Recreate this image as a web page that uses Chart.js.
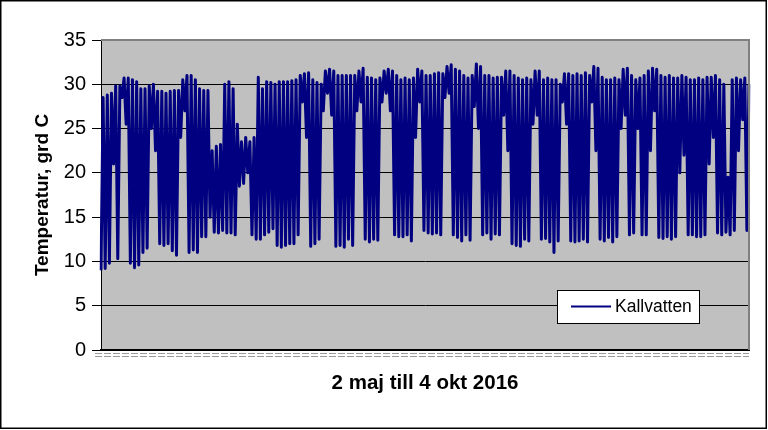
<!DOCTYPE html>
<html>
<head>
<meta charset="utf-8">
<title>Kallvatten</title>
<script src="https://cdn.jsdelivr.net/npm/chart.js@4/dist/chart.umd.min.js"></script>
<style>
  body { margin: 0; background: #fff; }
  #wrap { width: 768px; height: 430px; }
</style>
</head>
<body>
<div id="wrap"><canvas id="chart" width="768" height="430"></canvas></div>
<script>
// Kallvatten - dygnsvis max/min, 2 maj till 4 okt 2016
const seriesName = 'Kallvatten';
const xTitle = '2 maj till 4 okt 2016';
const yTitle = 'Temperatur, grd C';

const dayMax = [
  28.5, 28.8, 29.0, 29.8, 29.8, 30.7, 30.7, 30.5, 30.3, 29.5,
  29.5, 29.8, 30.0, 29.2, 29.2, 29.0, 29.2, 29.3, 29.3, 30.5,
  31.0, 31.0, 30.5, 29.5, 29.3, 29.3, 22.5, 23.0, 23.2, 30.0,
  30.3, 29.5, 25.5, 23.5, 24.0, 23.5, 24.0, 30.8, 29.5, 30.3,
  30.2, 30.0, 30.3, 30.3, 30.3, 30.4, 30.5, 31.0, 31.2, 31.3,
  30.5, 30.2, 30.0, 31.5, 31.7, 31.5, 31.0, 31.0, 31.0, 31.0,
  31.0, 31.5, 31.8, 30.8, 30.7, 30.5, 30.7, 31.5, 31.7, 31.5,
  31.0, 30.5, 30.7, 30.5, 30.7, 31.7, 31.5, 31.0, 31.0, 31.2,
  31.3, 31.2, 32.0, 32.2, 31.7, 31.5, 31.0, 30.7, 31.0, 32.3,
  32.0, 31.0, 31.0, 30.7, 30.8, 30.8, 31.5, 31.5, 31.0, 30.7,
  30.5, 30.7, 30.5, 31.5, 31.5, 30.5, 30.7, 30.5, 30.5, 30.0,
  31.2, 31.2, 31.0, 31.2, 31.0, 31.3, 31.0, 32.0, 31.8, 30.8,
  30.5, 30.5, 30.7, 30.5, 31.7, 31.8, 31.0, 30.5, 30.7, 31.0,
  31.5, 31.8, 31.7, 31.0, 30.8, 31.0, 30.7, 30.7, 31.0, 30.8,
  30.5, 30.5, 30.7, 30.5, 30.8, 30.8, 31.0, 30.5, 30.0, 19.5,
  30.5, 30.7, 30.5, 30.7, 30.0
];

const dayMin = [
   9.0,  9.2,  9.8, 21.0, 10.3, 28.5, 25.5,  9.8,  9.3,  9.6,
  11.0, 11.5, 25.0, 22.5, 12.0, 11.8, 12.0, 11.2, 10.7, 24.0,
  27.0, 11.0, 11.3, 11.0, 12.8, 12.8, 15.0, 13.3, 13.2, 13.5,
  13.2, 13.2, 13.0, 18.5, 18.8, 20.0, 13.0, 12.5, 12.5, 13.0,
  13.3, 13.7, 11.8, 11.6, 11.8, 12.0, 12.0, 13.0, 28.0, 24.0,
  11.7, 12.0, 12.5, 27.0, 29.0, 26.5, 11.7, 11.8, 11.6, 12.5,
  11.8, 27.0, 28.0, 12.5, 12.2, 12.5, 12.4, 28.0, 29.0, 27.0,
  13.0, 12.8, 12.8, 13.0, 12.3, 24.0, 28.0, 13.5, 13.2, 13.1,
  13.2, 13.0, 28.5, 29.0, 13.0, 12.7, 12.3, 13.0, 12.4, 27.5,
  25.0, 13.0, 13.2, 12.5, 13.1, 13.0, 26.5, 22.5, 12.0, 11.8,
  11.7, 12.5, 12.3, 25.5, 26.5, 12.5, 12.6, 12.2, 11.0, 12.3,
  28.0, 25.5, 12.3, 12.2, 12.3, 12.5, 12.2, 28.0, 22.5, 12.5,
  12.3, 12.7, 12.2, 12.8, 25.0, 26.5, 13.0, 13.2, 25.0, 13.0,
  13.0, 22.5, 27.0, 12.7, 12.6, 12.8, 12.5, 12.8, 20.0, 22.0,
  13.0, 13.0, 12.8, 12.8, 13.0, 21.0, 24.0, 13.2, 13.0, 13.3,
  13.0, 13.5, 22.5, 26.0, 13.5
];

const yTicks = [0, 5, 10, 15, 20, 25, 30, 35];

// en punkt för dygnets min och en för max
const months = ['jan','feb','mar','apr','maj','jun','jul','aug','sep','okt','nov','dec'];
const labels = [];
const values = [];
for (let i = 0; i < dayMax.length; i++) {
  const d = new Date(2016, 4, 2 + i);
  const lab = d.getDate() + ' ' + months[d.getMonth()];
  labels.push(lab + ' natt', lab + ' dag');
  values.push(dayMin[i], dayMax[i]);
}

const fontFam = '"Liberation Sans", Arial, sans-serif';

const plotFrame = {
  id: 'plotFrame',
  beforeDraw(chart) {
    const { ctx, chartArea: a } = chart;
    ctx.save();
    ctx.fillStyle = '#c0c0c0';
    ctx.fillRect(a.left, a.top, a.right - a.left, a.bottom - a.top);
    ctx.restore();
  },
  afterDraw(chart) {
    const { ctx, chartArea: a, width, height } = chart;
    ctx.save();
    // grå ram upptill och till höger
    ctx.strokeStyle = '#808080';
    ctx.lineWidth = 2;
    ctx.beginPath();
    ctx.moveTo(a.left, a.top);
    ctx.lineTo(a.right, a.top);
    ctx.lineTo(a.right, a.bottom);
    ctx.stroke();
    // streckade linjer under x-axeln
    ctx.strokeStyle = '#9a9a9a';
    ctx.lineWidth = 1;
    ctx.setLineDash([7, 2]);
    [3.5, 6.5].forEach(dy => {
      ctx.beginPath();
      ctx.moveTo(a.left - 6, a.bottom + dy);
      ctx.lineTo(a.right, a.bottom + dy);
      ctx.stroke();
    });
    ctx.setLineDash([]);
    // förklaring
    const ds = chart.data.datasets[0];
    const bx = a.right - 192, by = a.bottom - 60, bw = 142, bh = 33;
    ctx.fillStyle = '#fff';
    ctx.fillRect(bx, by, bw, bh);
    ctx.strokeStyle = '#000';
    ctx.strokeRect(bx + 0.5, by + 0.5, bw, bh);
    ctx.strokeStyle = ds.borderColor;
    ctx.lineWidth = 2;
    ctx.beginPath();
    ctx.moveTo(bx + 14, by + 16.5);
    ctx.lineTo(bx + 54, by + 16.5);
    ctx.stroke();
    ctx.fillStyle = '#000';
    ctx.font = '17.5px ' + fontFam;
    ctx.textBaseline = 'middle';
    ctx.fillText(ds.label, bx + 58, by + 17);
    // yttre ram
    ctx.lineWidth = 1.5;
    ctx.strokeStyle = '#000';
    ctx.strokeRect(0.75, 0.75, width - 2.5, height - 2.5);
    ctx.restore();
  }
};

new Chart(document.getElementById('chart'), {
  type: 'line',
  data: {
    labels: labels,
    datasets: [{
      label: seriesName,
      data: values,
      borderColor: '#000080',
      borderWidth: 3,
      borderJoinStyle: 'round',
      pointRadius: 0,
      tension: 0,
      fill: false
    }]
  },
  options: {
    responsive: false,
    animation: false,
    layout: { padding: { left: 0, right: 19, top: 40, bottom: 0 } },
    plugins: {
      legend: { display: false },
      tooltip: { enabled: false }
    },
    scales: {
      x: {
        offset: false,
        grid: { display: false },
        border: { display: true, color: '#000', width: 2 },
        ticks: { display: false },
        title: {
          display: true,
          text: xTitle,
          color: '#000',
          font: { family: fontFam, size: 20.5, weight: 'bold' },
          padding: { top: 0, bottom: 34 }
        },
        afterFit: s => { s.height = 80; }
      },
      y: {
        min: 0,
        max: 35,
        afterBuildTicks: s => { s.ticks = yTicks.map(v => ({ value: v })); },
        grid: { color: '#000', lineWidth: 1, tickLength: 9, tickColor: '#000' },
        border: { color: '#000', width: 1 },
        ticks: {
          color: '#000',
          padding: 6,
          font: { family: fontFam, size: 20 }
        },
        title: {
          display: true,
          text: yTitle,
          color: '#000',
          font: { family: fontFam, size: 19, weight: 'bold' },
          padding: { top: 31, bottom: 0 }
        },
        afterFit: s => { s.width = 101; }
      }
    }
  },
  plugins: [plotFrame]
});
</script>
</body>
</html>
